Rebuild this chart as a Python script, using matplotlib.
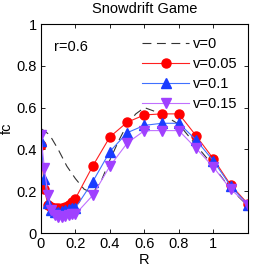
import matplotlib
matplotlib.use("Agg")
import matplotlib.pyplot as plt

plt.rcParams['font.family'] = ['Liberation Sans', 'DejaVu Sans']

x_dense = [0, 0.02, 0.04, 0.06, 0.08, 0.1, 0.12, 0.14, 0.16, 0.18, 0.2,
           0.3, 0.4, 0.5, 0.6, 0.7, 0.8, 0.9, 1.0, 1.1, 1.2]
fc_v005 = [0.42, 0.21, 0.135, 0.125, 0.12, 0.12, 0.12, 0.125, 0.135, 0.15, 0.165,
           0.32, 0.46, 0.53, 0.565, 0.57, 0.57, 0.465, 0.355, 0.23, 0.14]
fc_v01 = [0.44, 0.26, 0.145, 0.11, 0.10, 0.10, 0.105, 0.11, 0.115, 0.12, 0.12,
          0.245, 0.39, 0.48, 0.515, 0.525, 0.525, 0.445, 0.345, 0.225, 0.135]
fc_v015 = [0.47, 0.31, 0.18, 0.11, 0.085, 0.075, 0.075, 0.08, 0.085, 0.09, 0.09,
           0.18, 0.32, 0.43, 0.49, 0.49, 0.49, 0.405, 0.315, 0.21, 0.135]

x_v0 = [0, 0.05, 0.1, 0.15, 0.2, 0.25, 0.3, 0.35, 0.4, 0.45, 0.5, 0.55, 0.6,
        0.7, 0.8, 0.9, 1.0, 1.1, 1.2]
fc_v0 = [0.5, 0.47, 0.4, 0.32, 0.26, 0.21, 0.19, 0.25, 0.35, 0.44, 0.52, 0.57, 0.6,
         0.57, 0.52, 0.42, 0.32, 0.21, 0.13]

FS = 10.5
fig = plt.figure(figsize=(2.73, 2.73), dpi=100)
ax = fig.add_axes([0.150, 0.1465, 0.758, 0.7655])

ax.plot(x_v0, fc_v0, linestyle=(0, (8, 5)), color='#333333', lw=0.8, label='v=0')
ax.plot(x_dense, fc_v005, '-o', color='#ff2020', mfc='red', mec='red', ms=6.5, lw=0.8, label='v=0.05')
ax.plot(x_dense, fc_v01, '-^', color='#4070ff', mfc='#1a3cff', mec='#1a3cff', ms=6.5, lw=0.8, label='v=0.1')
ax.plot(x_dense, fc_v015, '-v', color='#c070ff', mfc='#a040ff', mec='#a040ff', ms=6.5, lw=0.8, label='v=0.15')

ax.set_xlim(0, 1.2)
ax.set_ylim(0, 1)
ax.set_xticks([0, 0.2, 0.4, 0.6, 0.8, 1])
ax.set_xticklabels(['0', '0.2', '0.4', '0.6', '0.8', '1'])
ax.set_yticks([0, 0.2, 0.4, 0.6, 0.8, 1])
ax.set_yticklabels(['0', '0.2', '0.4', '0.6', '0.8', '1'])
ax.tick_params(direction='in', top=True, right=True, labelsize=FS, length=3, width=0.6, pad=3)
for s in ax.spines.values():
    s.set_linewidth(0.8)

ax.set_xlabel('R', fontsize=FS, labelpad=1)
ax.set_ylabel('fc', fontsize=FS, labelpad=2)
ax.set_title('Snowdrift Game', fontsize=FS, pad=8)
ax.text(0.075, 0.89, 'r=0.6', fontsize=FS, transform=ax.transData, va='center')

ax.legend(loc='upper right', bbox_to_anchor=(0.98, 0.966), frameon=False, fontsize=FS,
          handlelength=3.2, handletextpad=0.3, labelspacing=0.42, borderaxespad=0,
          borderpad=0.4)

fig.savefig('out.png', dpi=100)
